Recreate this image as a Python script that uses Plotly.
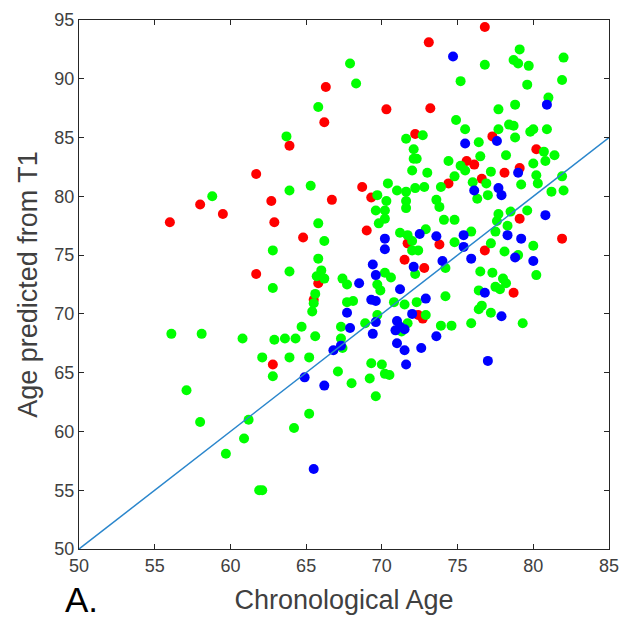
import plotly.graph_objects as go

# red group
red_x = [76.8, 73.1, 66.3, 70.3, 73.2, 66.2, 72.2, 75.6, 63.9, 61.7, 68.7, 74.4, 77.3, 80.2,
         76.1, 79.1, 78.1, 76.6, 58.0, 59.5, 56.0, 62.7, 62.9, 61.7, 64.8, 66.7, 69.3, 69.0,
         73.8, 71.7, 71.5, 72.8, 65.8, 65.5, 72.4, 72.7, 79.1, 81.9, 76.8, 78.7, 62.8]
red_y = [94.4, 93.1, 89.3, 87.4, 87.5, 86.3, 85.3, 83.0, 84.3, 81.9, 80.8, 81.1, 85.1, 84.0,
         82.7, 82.4, 82.0, 81.5, 79.3, 78.5, 77.8, 79.6, 77.8, 73.4, 76.5, 79.7, 79.9, 77.1,
         75.9, 76.0, 74.6, 73.9, 72.6, 71.2, 69.9, 69.6, 78.1, 76.4, 75.4, 71.8, 65.7]

# green group
green_x = [63.7, 63.9, 67.9, 68.3, 75.2, 65.8, 74.9, 75.5, 72.7, 71.6,
           72.1, 72.1, 72.3, 74.4, 75.2, 75.5, 72.0, 73.0, 74.8, 65.3,
           70.4, 73.9, 71.0, 72.2, 72.8, 71.6, 79.1, 78.7, 79.0,
           79.7, 82.0, 76.8, 79.6, 81.9, 81.0, 77.7, 78.8, 78.4, 78.7,
           77.7, 79.8, 80.0, 80.9, 78.8, 76.4, 80.7, 81.4, 80.8, 76.5,
           78.2, 80.0, 77.2, 80.2, 81.9, 76.0, 76.9, 79.2, 80.3, 82.0,
           81.2, 58.8, 62.8, 63.9, 62.8, 56.1, 58.1, 60.8, 62.9, 63.6,
           64.3, 64.7, 62.1, 63.9, 69.7, 73.6, 73.8, 71.6, 71.6, 70.3,
           70.2, 69.6, 70.2, 69.8, 74.1, 74.8, 65.8, 66.2, 71.2, 71.7,
           72.9, 74.8, 72.0, 72.0, 72.4, 65.8, 74.2, 66.0, 65.7, 66.2,
           70.2, 70.6, 72.2, 67.4, 67.7, 69.7, 69.9, 65.6, 65.5, 67.7,
           68.1, 70.8, 71.5, 72.3, 74.2, 65.4, 69.7, 72.9, 71.7, 73.9,
           74.6, 67.3, 68.9, 65.6, 67.3, 71.3, 67.4, 65.2, 76.3, 77.0,
           79.6, 78.5, 77.7, 77.6, 78.3, 75.9, 77.5, 77.2, 80.0,
           78.1, 79.0, 76.5, 77.3, 80.2, 78.0, 78.2, 77.5, 77.8, 76.4,
           76.6, 76.4, 77.2, 79.3, 75.9, 62.8, 57.1, 58.0, 61.2, 64.2,
           60.9, 59.7, 61.9, 62.1, 67.1, 68.0, 69.3, 70.0, 69.2, 70.2,
           70.5, 69.6, 65.2]
green_y = [85.1, 80.5, 91.3, 89.6, 89.8, 87.6, 86.5, 85.7, 85.2, 84.9,
           84.0, 83.2, 83.2, 83.0, 82.6, 82.2, 82.2, 82.0, 81.7, 80.9,
           81.1, 80.8, 80.5, 80.7, 80.8, 80.4, 92.5, 91.6, 91.3,
           91.1, 91.8, 91.2, 89.5, 89.9, 88.4, 87.4, 87.8, 86.1, 86.0,
           85.7, 85.5, 85.7, 85.7, 85.0, 84.6, 83.8, 83.5, 83.0, 83.4,
           83.5, 82.8, 82.1, 81.8, 81.7, 81.2, 81.1, 81.0, 81.1, 80.5,
           80.4, 80.0, 75.4, 73.6, 72.2, 68.3, 68.3, 67.9, 67.8, 67.9,
           67.9, 68.9, 66.3, 66.3, 80.1, 79.7, 79.1, 79.6, 79.0, 79.6,
           78.8, 78.8, 78.1, 77.7, 78.0, 78.0, 77.7, 76.2, 76.9, 76.7,
           77.2, 76.1, 76.2, 75.4, 75.4, 74.7, 73.9, 73.7, 73.2, 73.0,
           73.5, 73.1, 73.4, 73.0, 72.5, 72.5, 72.0, 71.7, 70.9, 71.0,
           71.1, 71.0, 70.8, 71.0, 71.5, 70.2, 69.9, 69.9, 69.2, 69.0,
           69.0, 68.9, 69.2, 68.1, 67.9, 68.5, 67.1, 66.3, 79.8, 80.1,
           78.8, 78.7, 78.5, 77.9, 77.5, 77.0, 77.0, 76.0, 75.8,
           75.3, 75.0, 73.6, 73.5, 73.3, 73.0, 72.6, 72.3, 72.1, 72.0,
           70.7, 70.4, 70.1, 69.2, 69.2, 64.7, 63.5, 60.8, 61.0, 60.3,
           59.4, 58.1, 55.0, 55.0, 65.1, 64.1, 65.8, 65.7, 64.5, 64.9,
           64.8, 63.0, 61.5]

# blue group
blue_x = [74.7, 75.5, 80.9, 77.6, 79.0, 76.1, 77.7, 77.9, 80.8, 78.3, 79.2, 75.9, 78.8,
          80.0, 76.8, 77.9, 77.0, 72.5, 73.6, 75.4, 75.4, 70.2, 70.2, 72.1, 74.0, 69.4,
          69.6, 68.5, 71.2, 69.3, 69.6, 72.9, 67.7, 72.0, 69.6, 71.0, 71.2, 70.9, 67.9,
          69.4, 71.5, 73.6, 71.0, 72.6, 71.5, 67.3, 66.8, 64.9, 66.2, 71.6, 65.5]
blue_y = [91.9, 84.5, 87.8, 84.7, 82.0, 80.5, 80.7, 80.1, 78.4, 76.7, 76.4, 74.7, 74.8,
          74.5, 71.8, 69.8, 66.0, 76.8, 76.6, 76.7, 75.7, 76.4, 75.5, 74.0, 74.5, 74.2,
          73.3, 72.6, 72.1, 71.2, 71.1, 71.3, 70.1, 70.0, 69.3, 69.4, 68.9, 68.6, 68.8,
          68.3, 68.7, 68.1, 67.5, 67.1, 66.9, 67.3, 66.9, 64.6, 63.9, 65.7, 56.8]

line_x = [50, 85]
line_y = [50, 85]

x_ticks = [50, 55, 60, 65, 70, 75, 80, 85]
y_ticks = [50, 55, 60, 65, 70, 75, 80, 85, 90, 95]

fig = go.Figure()
for xs, ys, col in [(red_x, red_y, '#ff0000'), (green_x, green_y, '#00ff00'), (blue_x, blue_y, '#0000ff')]:
    fig.add_trace(go.Scatter(x=xs, y=ys, mode='markers',
                             marker=dict(color=col, size=10, line=dict(width=0))))
fig.add_trace(go.Scatter(x=line_x, y=line_y, mode='lines', line=dict(color='#2a86cc', width=1.5)))

axis_style = dict(ticks='inside', ticklen=5, tickcolor='#262626', showline=True, linecolor='#262626',
                  linewidth=1.2, mirror='ticks', showgrid=False, zeroline=False,
                  tickfont=dict(family='Liberation Sans', size=18, color='#404040'))
fig.update_xaxes(range=[50, 85], tickvals=x_ticks, **axis_style,
                 title=dict(text='Chronological Age', standoff=15,
                            font=dict(family='Liberation Sans', size=27, color='#404040')))
fig.update_yaxes(range=[50, 95], tickvals=y_ticks, **axis_style,
                 title=dict(text='Age predicted from T1', standoff=8,
                            font=dict(family='Liberation Sans', size=27, color='#404040')))
fig.add_annotation(text='A.', x=0.005, y=-0.137, xref='paper', yref='paper', showarrow=False,
                   xanchor='center', yanchor='bottom', font=dict(family='Liberation Sans', size=35, color='black'))
fig.update_layout(width=622, height=622, showlegend=False, plot_bgcolor='white', paper_bgcolor='white',
                  margin=dict(l=79, r=13, t=20, b=73, autoexpand=False))
# drop the default body margin so the 622px figure fills the window exactly
fig.write_html("out.html", config={'displayModeBar': False},
               post_script="document.body.style.margin='0';document.body.style.overflow='hidden';")
